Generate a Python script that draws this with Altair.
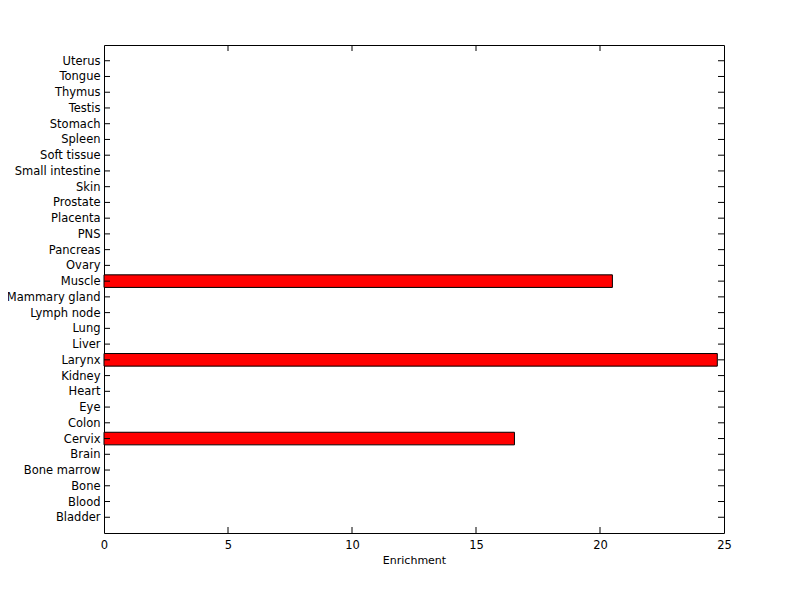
import altair as alt
import pandas as pd

categories = ["Bladder", "Blood", "Bone", "Bone marrow", "Brain", "Cervix", "Colon",
              "Eye", "Heart", "Kidney", "Larynx", "Liver", "Lung", "Lymph node",
              "Mammary gland", "Muscle", "Ovary", "Pancreas", "PNS", "Placenta",
              "Prostate", "Skin", "Small intestine", "Soft tissue", "Spleen",
              "Stomach", "Testis", "Thymus", "Tongue", "Uterus"]
enrichment = [0, 0, 0, 0, 0, 16.55, 0,
              0, 0, 0, 24.73, 0, 0, 0,
              0, 20.5, 0, 0, 0, 0,
              0, 0, 0, 0, 0,
              0, 0, 0, 0, 0]
x_ticks = [0, 5, 10, 15, 20, 25]
inner_ticks = [5, 10, 15, 20]

df = pd.DataFrame({"cat": categories, "val": enrichment})
df_x = pd.DataFrame({"t": inner_ticks})

W, H = 620, 488
FONT = "DejaVu Sans"
order = list(reversed(categories))

yenc = alt.Y("cat:N", sort=order,
             scale=alt.Scale(paddingInner=0.2, paddingOuter=0.6),
             axis=alt.Axis(title=None, ticks=False, tickSize=0, domain=False,
                           labelPadding=4, labelFont=FONT, labelFontSize=11.5,
                           labelColor="black", grid=False, labelOffset=1))
xscale = alt.Scale(domain=[0, 25], nice=False, zero=True)

bars = alt.Chart(df).mark_bar(color="#ff0000", stroke="black", strokeWidth=1).encode(
    x=alt.X("val:Q", scale=xscale,
            axis=alt.Axis(title="Enrichment", values=x_ticks, ticks=False, tickSize=0,
                          domain=False, grid=False, labelPadding=6, labelFlush=False,
                          labelFont=FONT, labelFontSize=11.5, labelColor="black",
                          titleFont=FONT, titleFontSize=11, titleFontWeight="normal",
                          titleColor="black", titlePadding=4)),
    y=yenc,
).transform_filter("datum.val > 0")

left_ticks = alt.Chart(df).mark_rule(color="black", strokeWidth=1).encode(
    y=alt.Y("cat:N", sort=order, bandPosition=0.5),
    x=alt.value(0), x2=alt.value(6))
right_ticks = alt.Chart(df).mark_rule(color="black", strokeWidth=1).encode(
    y=alt.Y("cat:N", sort=order, bandPosition=0.5),
    x=alt.value(W - 6), x2=alt.value(W))
bottom_ticks = alt.Chart(df_x).mark_rule(color="black", strokeWidth=1).encode(
    x=alt.X("t:Q", scale=xscale), y=alt.value(H - 6), y2=alt.value(H))
top_ticks = alt.Chart(df_x).mark_rule(color="black", strokeWidth=1).encode(
    x=alt.X("t:Q", scale=xscale), y=alt.value(0), y2=alt.value(6))

chart = alt.layer(bars, left_ticks, right_ticks, bottom_ticks, top_ticks).properties(
    width=W, height=H,
    autosize=alt.AutoSizeParams(type="none"),
    padding={"left": 96, "top": 37, "right": 60, "bottom": 58},
    background="white",
).configure_view(stroke="black", strokeWidth=1)

chart.save("out.html", embed_options={"renderer": "svg", "actions": False})
